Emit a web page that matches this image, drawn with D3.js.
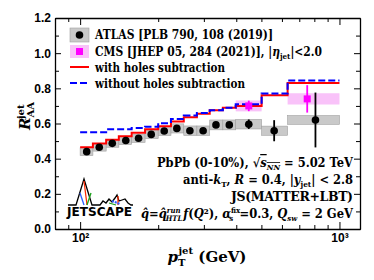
<!DOCTYPE html>
<html>
<head>
<meta charset="utf-8">
<style>
  body { margin: 0; background: #fff; }
</style>
</head>
<body>
<svg width="374" height="280" font-family="DejaVu Serif" font-weight="bold"></svg>
<script src="https://d3js.org/d3.v7.min.js"></script>
<script>

// ATLAS bins (GeV) and values
var binEdges = [100, 112, 126, 141, 158, 178, 200, 224, 251, 282, 316, 355, 398, 501, 631, 1000];
var atlasPt = [106, 118.5, 133, 150, 168, 188, 211, 236, 265, 298, 334, 376, 447, 560, 808];
var atlasR = [0.44, 0.465, 0.487, 0.503, 0.516, 0.538, 0.557, 0.572, 0.559, 0.559, 0.592, 0.592, 0.596, 0.559, 0.62];
var atlasStat = [0.006, 0.006, 0.006, 0.006, 0.006, 0.006, 0.007, 0.008, 0.008, 0.009, 0.012, 0.014, 0.027, 0.06, 0.156];
var atlasSyst = [0.022, 0.022, 0.022, 0.023, 0.023, 0.024, 0.025, 0.026, 0.027, 0.027, 0.028, 0.028, 0.027, 0.026, 0.025];

// CMS
var cmsLo = [398, 631];
var cmsHi = [501, 1000];
var cmsPt = [447, 751];
var cmsR = [0.70, 0.74];
var cmsStat = [0.03, 0.078];
var cmsSyst = [0.031, 0.032];

// JETSCAPE curves, one value per ATLAS bin
var withHoles = [0.465, 0.486, 0.507, 0.527, 0.547, 0.567, 0.585, 0.612, 0.635, 0.655, 0.675, 0.69, 0.70, 0.76, 0.83];
var withoutHoles = [0.55, 0.55, 0.567, 0.567, 0.575, 0.582, 0.602, 0.626, 0.645, 0.66, 0.675, 0.69, 0.71, 0.77, 0.845];

var yMajor = [0, 0.2, 0.4, 0.6, 0.8, 1.0, 1.2];
var yMinor = [0.1, 0.3, 0.5, 0.7, 0.9, 1.1];
var xMajor = [100, 1000];
var xMinor = [90, 200, 300, 400, 500, 600, 700, 800, 900];

var svg = d3.select("svg"),
    margin = {top: 18, right: 14, bottom: 51, left: 55},
    width = +svg.attr("width") - margin.left - margin.right,
    height = +svg.attr("height") - margin.top - margin.bottom,
    g = svg.append("g").attr("transform", "translate(" + margin.left + "," + margin.top + ")");

var x = d3.scaleLog().domain([80, 1200]).range([0, width]);
var y = d3.scaleLinear().domain([0, 1.2]).range([height, 0]);

// ATLAS systematic boxes
g.selectAll(".atlasBox")
  .data(atlasR)
  .enter().append("rect")
    .attr("x", function(d, i) { return x(binEdges[i]); })
    .attr("width", function(d, i) { return x(binEdges[i + 1]) - x(binEdges[i]); })
    .attr("y", function(d, i) { return y(d + atlasSyst[i]); })
    .attr("height", function(d, i) { return y(d - atlasSyst[i]) - y(d + atlasSyst[i]); })
    .attr("fill", "#c9c9c9")
    .attr("stroke", "#a0a0a0")
    .attr("stroke-width", 0.6);

// CMS systematic boxes
g.selectAll(".cmsBox")
  .data(cmsR)
  .enter().append("rect")
    .attr("x", function(d, i) { return x(cmsLo[i]); })
    .attr("width", function(d, i) { return x(cmsHi[i]) - x(cmsLo[i]); })
    .attr("y", function(d, i) { return y(d + cmsSyst[i]); })
    .attr("height", function(d, i) { return y(d - cmsSyst[i]) - y(d + cmsSyst[i]); })
    .attr("fill", "#f9c2f9");

// step curves
var step = d3.line()
    .x(function(d) { return x(d[0]); })
    .y(function(d) { return y(d[1]); })
    .curve(d3.curveStepAfter);

function stepData(vals) {
  var pts = vals.map(function(v, i) { return [binEdges[i], v]; });
  pts.push([binEdges[binEdges.length - 1], vals[vals.length - 1]]);
  return pts;
}

g.append("path")
    .datum(stepData(withHoles))
    .attr("fill", "none")
    .attr("stroke", "#ff0000")
    .attr("stroke-width", 2)
    .attr("d", step);

g.append("path")
    .datum(stepData(withoutHoles))
    .attr("fill", "none")
    .attr("stroke", "#0000ff")
    .attr("stroke-width", 2)
    .attr("stroke-dasharray", "7,3")
    .attr("d", step);

// ATLAS points
g.selectAll(".atlasErr")
  .data(atlasR)
  .enter().append("line")
    .attr("x1", function(d, i) { return x(atlasPt[i]); })
    .attr("x2", function(d, i) { return x(atlasPt[i]); })
    .attr("y1", function(d, i) { return y(d - atlasStat[i]); })
    .attr("y2", function(d, i) { return y(d + atlasStat[i]); })
    .attr("stroke", "#000")
    .attr("stroke-width", 1.8);

g.selectAll(".atlasPt")
  .data(atlasR)
  .enter().append("circle")
    .attr("cx", function(d, i) { return x(atlasPt[i]); })
    .attr("cy", function(d) { return y(d); })
    .attr("r", 3.8)
    .attr("fill", "#000");

// CMS points
g.selectAll(".cmsErr")
  .data(cmsR)
  .enter().append("line")
    .attr("x1", function(d, i) { return x(cmsPt[i]); })
    .attr("x2", function(d, i) { return x(cmsPt[i]); })
    .attr("y1", function(d, i) { return y(d - cmsStat[i]); })
    .attr("y2", function(d, i) { return y(d + cmsStat[i]); })
    .attr("stroke", "#ff00ff")
    .attr("stroke-width", 1.8);

g.selectAll(".cmsPt")
  .data(cmsR)
  .enter().append("rect")
    .attr("x", function(d, i) { return x(cmsPt[i]) - 3.5; })
    .attr("y", function(d) { return y(d) - 3.5; })
    .attr("width", 7)
    .attr("height", 7)
    .attr("fill", "#ff00ff");

// axes, ticks pointing in
function styleAxis(sel) {
  sel.selectAll(".domain").attr("stroke-width", 1.3);
  sel.selectAll("text").attr("font-size", "12px").attr("font-family", null);
}

var supFmt = function(d) { return d === 100 ? "10\u00b2" : "10\u00b3"; };

g.append("g").attr("transform", "translate(0," + height + ")")
    .call(d3.axisBottom(x).tickValues(xMajor).tickFormat(supFmt).tickSizeInner(-7).tickSizeOuter(0).tickPadding(4))
    .call(styleAxis);
g.append("g").attr("transform", "translate(0," + height + ")")
    .call(d3.axisBottom(x).tickValues(xMinor).tickFormat("").tickSizeInner(-4).tickSizeOuter(0));
g.append("g")
    .call(d3.axisTop(x).tickValues(xMajor).tickFormat("").tickSizeInner(-7).tickSizeOuter(0))
    .call(styleAxis);
g.append("g")
    .call(d3.axisTop(x).tickValues(xMinor).tickFormat("").tickSizeInner(-4).tickSizeOuter(0));

g.append("g")
    .call(d3.axisLeft(y).tickValues(yMajor).tickFormat(d3.format(".1f")).tickSizeInner(-6).tickSizeOuter(0).tickPadding(4))
    .call(styleAxis);
g.append("g")
    .call(d3.axisLeft(y).tickValues(yMinor).tickFormat("").tickSizeInner(-4).tickSizeOuter(0));
g.append("g").attr("transform", "translate(" + width + ",0)")
    .call(d3.axisRight(y).tickValues(yMajor).tickFormat("").tickSizeInner(-6).tickSizeOuter(0))
    .call(styleAxis);
g.append("g").attr("transform", "translate(" + width + ",0)")
    .call(d3.axisRight(y).tickValues(yMinor).tickFormat("").tickSizeInner(-4).tickSizeOuter(0));

// axis labels
var yl = svg.append("text")
    .attr("transform", "translate(30,116) rotate(-90)")
    .attr("text-anchor", "middle")
    .attr("font-size", "15px");
yl.append("tspan").attr("font-style", "italic").text("R");
yl.append("tspan").attr("font-size", "10px").attr("dy", 4).text("AA");
yl.append("tspan").attr("font-size", "10px").attr("dx", -17).attr("dy", -10).text("jet");

var xl = svg.append("text")
    .attr("x", 207).attr("y", 262)
    .attr("text-anchor", "middle")
    .attr("font-size", "15px");
xl.append("tspan").attr("font-style", "italic").text("p");
xl.append("tspan").attr("font-size", "10px").attr("dy", 4).text("T");
xl.append("tspan").attr("font-size", "10px").attr("dx", -7).attr("dy", -12).text("jet");
xl.append("tspan").attr("dy", 8).text(" (GeV)");

// legend
var leg = svg.append("g").attr("font-size", "12px");
leg.append("rect").attr("x", 70).attr("y", 28).attr("width", 19).attr("height", 14)
    .attr("fill", "#c9c9c9").attr("stroke", "#a0a0a0").attr("stroke-width", 0.6);
leg.append("circle").attr("cx", 79.5).attr("cy", 35).attr("r", 3.8).attr("fill", "#000");
leg.append("rect").attr("x", 70).attr("y", 45).attr("width", 19).attr("height", 13).attr("fill", "#f9c2f9");
leg.append("rect").attr("x", 76).attr("y", 48).attr("width", 7).attr("height", 7).attr("fill", "#ff00ff");
leg.append("line").attr("x1", 70).attr("x2", 89).attr("y1", 67).attr("y2", 67)
    .attr("stroke", "#ff0000").attr("stroke-width", 2);
leg.append("line").attr("x1", 70).attr("x2", 90).attr("y1", 83).attr("y2", 83)
    .attr("stroke", "#0000ff").attr("stroke-width", 2).attr("stroke-dasharray", "7,3");

leg.append("text").attr("x", 95).attr("y", 39)
    .attr("textLength", 178).attr("lengthAdjust", "spacingAndGlyphs")
    .text("ATLAS [PLB 790, 108 (2019)]");
var cmsT = leg.append("text").attr("x", 95).attr("y", 56)
    .attr("textLength", 227).attr("lengthAdjust", "spacingAndGlyphs");
cmsT.append("tspan").text("CMS [JHEP 05, 284 (2021)], |");
cmsT.append("tspan").attr("font-style", "italic").text("\u03b7");
cmsT.append("tspan").attr("font-size", "8px").attr("dy", 3).text("jet");
cmsT.append("tspan").attr("dy", -3).text("|<2.0");
leg.append("text").attr("x", 95).attr("y", 72)
    .attr("textLength", 130).attr("lengthAdjust", "spacingAndGlyphs")
    .text("with holes subtraction");
leg.append("text").attr("x", 95).attr("y", 88)
    .attr("textLength", 150).attr("lengthAdjust", "spacingAndGlyphs")
    .text("without holes subtraction");

// annotations
var ann = svg.append("g").attr("font-size", "12.5px");
var t1 = ann.append("text").attr("x", 157).attr("y", 167)
    .attr("textLength", 196).attr("lengthAdjust", "spacingAndGlyphs");
t1.append("tspan").text("PbPb (0-10%),  \u221a");
t1.append("tspan").attr("font-style", "italic").attr("text-decoration", "overline").text("s");
t1.append("tspan").attr("font-style", "italic").attr("font-size", "8px").attr("dy", 3).attr("text-decoration", "overline").text("NN");
t1.append("tspan").attr("dy", -3).text(" = 5.02 TeV");

var t2 = ann.append("text").attr("x", 183).attr("y", 184)
    .attr("textLength", 170).attr("lengthAdjust", "spacingAndGlyphs");
t2.append("tspan").text("anti-");
t2.append("tspan").attr("font-style", "italic").text("k");
t2.append("tspan").attr("font-size", "8px").attr("dy", 3).text("T");
t2.append("tspan").attr("dy", -3).text(",  ");
t2.append("tspan").attr("font-style", "italic").text("R");
t2.append("tspan").text(" = 0.4,  |");
t2.append("tspan").attr("font-style", "italic").text("y");
t2.append("tspan").attr("font-size", "8px").attr("dy", 3).text("jet");
t2.append("tspan").attr("dy", -3).text("| < 2.8");

ann.append("text").attr("x", 231).attr("y", 201)
    .attr("textLength", 122).attr("lengthAdjust", "spacing")
    .text("JS(MATTER+LBT)");

var t4 = ann.append("text").attr("x", 141).attr("y", 218)
    .attr("textLength", 212).attr("lengthAdjust", "spacingAndGlyphs");
t4.append("tspan").attr("font-style", "italic").text("q\u0302");
t4.append("tspan").text("=");
t4.append("tspan").attr("font-style", "italic").text("q\u0302");
t4.append("tspan").attr("font-style", "italic").attr("font-size", "7.5px").attr("dy", -5).text("run");
t4.append("tspan").attr("font-style", "italic").attr("font-size", "7.5px").attr("dx", -16).attr("dy", 8).text("HTL");
t4.append("tspan").attr("font-style", "italic").attr("dy", -3).attr("dx", 1).text("f");
t4.append("tspan").text("(");
t4.append("tspan").attr("font-style", "italic").text("Q");
t4.append("tspan").text("\u00b2),  ");
t4.append("tspan").attr("font-style", "italic").text("\u03b1");
t4.append("tspan").attr("font-size", "7.5px").attr("dy", -5).text("fix");
t4.append("tspan").attr("font-size", "7.5px").attr("dx", -12).attr("dy", 8).text("s");
t4.append("tspan").attr("dy", -3).attr("dx", 7).text("=0.3, ");
t4.append("tspan").attr("font-style", "italic").text("Q");
t4.append("tspan").attr("font-style", "italic").attr("font-size", "7.5px").attr("dy", 3).text("sw");
t4.append("tspan").attr("dy", -3).text(" = 2 GeV");

// JETSCAPE logo (local coordinates)
var logo = svg.append("g").attr("transform", "translate(66,177)");
var logoLine = [[2,28],[10,28],[18,2],[26,28],[34,28],[37,24],[40,26],[43,22],[46,25],[49,21],[51,18],[53,24],[56,23],[59,22],[62,26],[65,28],[67,28]];
logo.append("path").attr("d", d3.line()(logoLine)).attr("fill", "none").attr("stroke", "#000").attr("stroke-width", 1.3);
logo.append("path").attr("d", d3.line()([[18,4],[21,28]])).attr("stroke", "#ff2a00").attr("stroke-width", 1.3);
logo.append("path").attr("d", d3.line()([[14,16],[18,28]])).attr("stroke", "#2a5cff").attr("stroke-width", 1.3);
logo.append("path").attr("d", d3.line()([[21,28],[25,16]])).attr("stroke", "#1aa01a").attr("stroke-width", 1.3);
logo.append("path").attr("d", d3.line()([[52,19],[52,28]])).attr("stroke", "#ff2a00").attr("stroke-width", 1.3);
logo.append("path").attr("d", d3.line()([[43,26],[50,28]])).attr("stroke", "#1aa01a").attr("stroke-width", 1.3);
logo.append("path").attr("d", d3.line()([[46,24],[54,27]])).attr("stroke", "#2a5cff").attr("stroke-width", 2).attr("stroke-dasharray", "2,1");
logo.append("text").attr("x", 1).attr("y", 39).attr("font-family", "DejaVu Sans").attr("font-size", "12px")
    .attr("textLength", 65).attr("lengthAdjust", "spacingAndGlyphs").text("JETSCAPE");

</script>
</body>
</html>
